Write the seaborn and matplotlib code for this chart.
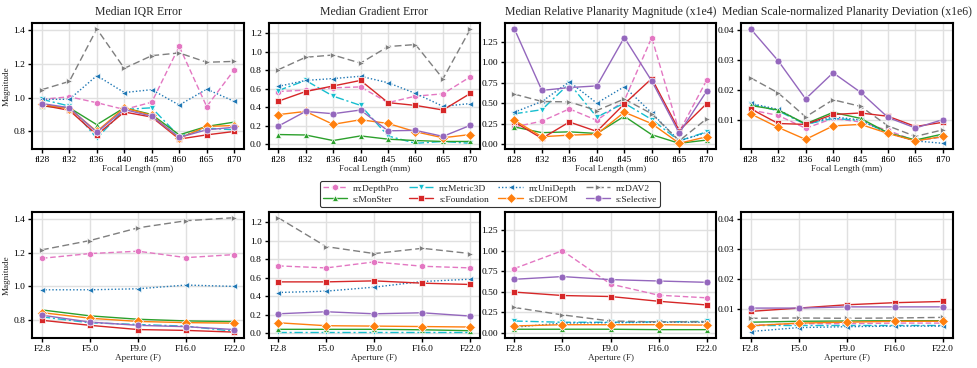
import numpy as np
import pandas as pd
import matplotlib
matplotlib.use("Agg")
import matplotlib.pyplot as plt
from matplotlib.ticker import MultipleLocator, FormatStrFormatter
import seaborn as sns

methods = ["m:DepthPro", "m:Metric3D", "m:UniDepth", "m:DAV2",
           "s:MonSter", "s:Foundation", "s:DEFOM", "s:Selective"]
focal_labels = ["fl28", "fl32", "fl36", "fl40", "fl45", "fl60", "fl65", "fl70"]
aperture_labels = ["F2.8", "F5.0", "F9.0", "F16.0", "F22.0"]

# focal length sweep (top row), one list per method in `methods` order
focal_iqr = [
    [0.99, 1.005, 0.97, 0.93, 0.973, 1.303, 0.947, 1.164],
    [0.99, 0.95, 0.76, 0.93, 0.94, 0.77, 0.82, 0.81],
    [0.99, 0.99, 1.13, 1.03, 1.047, 0.956, 1.05, 0.978],
    [1.047, 1.096, 1.406, 1.173, 1.248, 1.264, 1.209, 1.214],
    [0.95, 0.94, 0.84, 0.94, 0.90, 0.78, 0.83, 0.855],
    [0.955, 0.925, 0.78, 0.915, 0.885, 0.755, 0.78, 0.80],
    [0.96, 0.935, 0.80, 0.94, 0.895, 0.76, 0.83, 0.835],
    [0.965, 0.94, 0.795, 0.93, 0.89, 0.765, 0.81, 0.825],
]
focal_grad = [
    [0.57, 0.585, 0.61, 0.62, 0.45, 0.52, 0.545, 0.73],
    [0.58, 0.69, 0.52, 0.42, 0.09, 0.01, 0.03, 0.01],
    [0.625, 0.69, 0.71, 0.735, 0.665, 0.55, 0.41, 0.44],
    [0.805, 0.94, 0.965, 0.877, 1.056, 1.078, 0.708, 1.247],
    [0.105, 0.10, 0.04, 0.09, 0.055, 0.04, 0.03, 0.03],
    [0.465, 0.57, 0.63, 0.69, 0.45, 0.42, 0.37, 0.55],
    [0.32, 0.355, 0.215, 0.265, 0.225, 0.135, 0.07, 0.105],
    [0.195, 0.355, 0.33, 0.37, 0.145, 0.15, 0.085, 0.205],
]
focal_plan = [
    [0.21, 0.28, 0.43, 0.29, 0.53, 1.30, 0.15, 0.78],
    [0.37, 0.42, 0.74, 0.33, 0.50, 0.30, 0.04, 0.15],
    [0.39, 0.52, 0.76, 0.50, 0.70, 0.38, 0.04, 0.14],
    [0.61, 0.52, 0.515, 0.41, 0.55, 0.37, 0.04, 0.31],
    [0.21, 0.14, 0.15, 0.13, 0.34, 0.115, 0.01, 0.05],
    [0.27, 0.07, 0.27, 0.155, 0.49, 0.80, 0.165, 0.495],
    [0.29, 0.09, 0.11, 0.12, 0.39, 0.25, 0.01, 0.09],
    [1.405, 0.655, 0.69, 0.71, 1.30, 0.77, 0.135, 0.647],
]
focal_scale = [
    [0.0133, 0.0115, 0.0072, 0.0105, 0.0093, 0.0065, 0.0030, 0.0043],
    [0.0153, 0.0130, 0.0085, 0.0105, 0.0098, 0.0057, 0.0032, 0.0045],
    [0.0155, 0.0135, 0.0085, 0.0110, 0.0100, 0.0055, 0.0030, 0.0022],
    [0.0240, 0.0190, 0.0110, 0.0167, 0.0145, 0.0080, 0.0045, 0.0067],
    [0.0148, 0.0133, 0.0087, 0.0125, 0.0105, 0.0057, 0.0033, 0.0053],
    [0.0137, 0.0088, 0.0085, 0.0118, 0.0123, 0.0112, 0.0078, 0.0092],
    [0.0120, 0.0075, 0.0035, 0.0080, 0.0085, 0.0055, 0.0030, 0.0045],
    [0.0403, 0.0297, 0.0170, 0.0257, 0.0192, 0.0108, 0.0073, 0.0101],
]

# aperture sweep (bottom row)
aper_iqr = [
    [1.166, 1.194, 1.208, 1.17, 1.188],
    [0.82, 0.785, 0.775, 0.765, 0.735],
    [0.98, 0.98, 0.986, 1.008, 1.0],
    [1.216, 1.271, 1.346, 1.388, 1.406],
    [0.861, 0.826, 0.806, 0.796, 0.792],
    [0.80, 0.77, 0.745, 0.74, 0.73],
    [0.845, 0.812, 0.793, 0.786, 0.783],
    [0.83, 0.789, 0.77, 0.762, 0.745],
]
aper_grad = [
    [0.726, 0.704, 0.769, 0.722, 0.704],
    [0.015, 0.015, 0.015, 0.015, 0.015],
    [0.438, 0.453, 0.496, 0.557, 0.582],
    [1.247, 0.934, 0.859, 0.916, 0.859],
    [0.04, 0.04, 0.04, 0.035, 0.025],
    [0.553, 0.553, 0.564, 0.539, 0.525],
    [0.111, 0.079, 0.075, 0.07, 0.065],
    [0.208, 0.23, 0.208, 0.219, 0.183],
]
aper_plan = [
    [0.785, 1.003, 0.596, 0.46, 0.428],
    [0.145, 0.13, 0.13, 0.135, 0.14],
    [0.07, 0.12, 0.125, 0.13, 0.13],
    [0.31, 0.22, 0.145, 0.135, 0.135],
    [0.045, 0.045, 0.045, 0.04, 0.04],
    [0.498, 0.456, 0.444, 0.386, 0.341],
    [0.085, 0.10, 0.10, 0.10, 0.095],
    [0.654, 0.687, 0.65, 0.633, 0.617],
]
aper_scale = [
    [0.0045, 0.0050, 0.0050, 0.0052, 0.0052],
    [0.0045, 0.0045, 0.0045, 0.0045, 0.0045],
    [0.0024, 0.0037, 0.0040, 0.0042, 0.0042],
    [0.0068, 0.0069, 0.0068, 0.0069, 0.0071],
    [0.0055, 0.0058, 0.0059, 0.0060, 0.0060],
    [0.0091, 0.0102, 0.0113, 0.0120, 0.0124],
    [0.0043, 0.0052, 0.0055, 0.0058, 0.0058],
    [0.0102, 0.0102, 0.0106, 0.0106, 0.0106],
]

titles = ["Median IQR Error", "Median Gradient Error",
          "Median Relative Planarity Magnitude (x1e4)",
          "Median Scale-normalized Planarity Deviation (x1e6)"]

palette = dict(zip(methods, ["#e377c2", "#17becf", "#1f77b4", "#7f7f7f",
                             "#2ca02c", "#d62728", "#ff7f0e", "#9467bd"]))
markers = dict(zip(methods, ["h", "v", "<", ">", "^", "s", "D", "o"]))
dashes = dict(zip(methods, [(4, 2), (6, 2, 1.5, 2), (1, 1.5), (5, 2.5), "", "", "", ""]))

# y tick spacing / format per column
col_ticks = [(0.2, "%.1f"), (0.2, "%.1f"), (0.25, "%.2f"), (0.01, "%.2f")]


def to_long(values):
    rows = []
    for m, vals in zip(methods, values):
        for i, v in enumerate(vals):
            rows.append({"method": m, "pos": i, "value": v})
    return pd.DataFrame(rows)


sns.set_theme(style="ticks", rc={"axes.grid": True})
plt.rcParams["font.family"] = ["Liberation Serif", "DejaVu Serif"]
plt.rcParams.update({
    "grid.color": "#e0e0e0", "grid.linewidth": 1.0,
    "axes.edgecolor": "black", "axes.linewidth": 1.5,
    "xtick.color": "black", "ytick.color": "black",
    "xtick.major.width": 1.0, "ytick.major.width": 1.0,
    "xtick.major.size": 3, "ytick.major.size": 3,
})

fig, axes = plt.subplots(2, 4, figsize=(9.78, 3.68), dpi=100, sharey="col")
fig.subplots_adjust(left=0.033, right=0.974, bottom=0.082, top=0.937,
                    wspace=0.117, hspace=0.5)

rows = [(focal_labels, [focal_iqr, focal_grad, focal_plan, focal_scale], "Focal Length (mm)"),
        (aperture_labels, [aper_iqr, aper_grad, aper_plan, aper_scale], "Aperture (F)")]

for r, (labels, sets, xlabel) in enumerate(rows):
    for c, vals in enumerate(sets):
        ax = axes[r, c]
        df = to_long(vals)
        sns.lineplot(data=df, x="pos", y="value", hue="method", style="method",
                     hue_order=methods, style_order=methods, palette=palette,
                     markers=markers, dashes=dashes, markersize=5.0,
                     markeredgewidth=0.5, linewidth=1.0, ax=ax,
                     legend=(r == 0 and c == 0))
        ax.set_xticks(range(len(labels)))
        ax.set_xticklabels(labels)
        ax.yaxis.set_major_locator(MultipleLocator(col_ticks[c][0]))
        ax.yaxis.set_major_formatter(FormatStrFormatter(col_ticks[c][1]))
        ax.tick_params(labelsize=6.8, pad=2)
        ax.set_xlabel(xlabel, fontsize=6.6, labelpad=1)
        ax.set_ylabel("Magnitude" if c == 0 else "", fontsize=6.6, labelpad=2)
        if r == 0:
            ax.set_title(titles[c], fontsize=8.5, pad=6)
        ax.yaxis.set_tick_params(labelleft=True)

handles, labs = axes[0, 0].get_legend_handles_labels()
axes[0, 0].get_legend().remove()
# fig.legend fills column-wise; reorder so rows read m:* then s:*
order = [0, 4, 1, 5, 2, 6, 3, 7]
leg = fig.legend([handles[i] for i in order], [labs[i] for i in order],
                 loc="center", bbox_to_anchor=(0.501, 0.473), ncol=4,
                 fontsize=6.8, frameon=True, edgecolor="black", fancybox=True,
                 handlelength=2.6, columnspacing=1.0, borderpad=0.3,
                 labelspacing=0.25, handletextpad=0.6)
leg.get_frame().set_linewidth(0.8)

plt.savefig("out.png", dpi=100)
